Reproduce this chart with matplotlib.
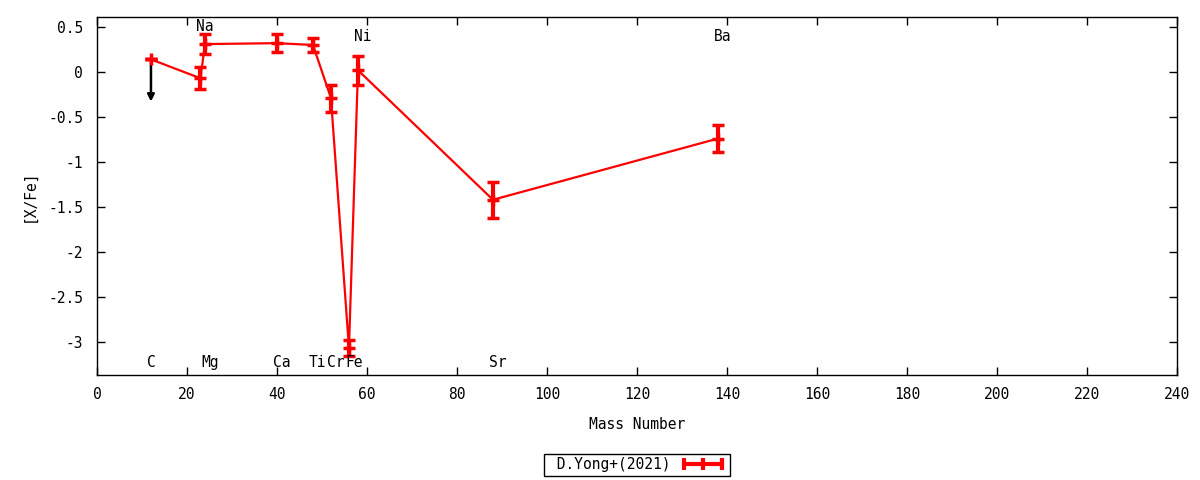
import matplotlib.pyplot as plt
from matplotlib.lines import Line2D
from matplotlib.patches import FancyArrowPatch

plt.rcParams['font.family'] = ['DejaVu Sans Mono']
plt.rcParams['font.size'] = 10.5

# D.Yong+(2021) abundances
elements = ['C', 'Na', 'Mg', 'Ca', 'Ti', 'Cr', 'Fe', 'Ni', 'Sr', 'Ba']
mass = [12, 23, 24, 40, 48, 52, 56, 58, 88, 138]
xfe = [0.14, -0.07, 0.31, 0.32, 0.30, -0.29, -3.07, 0.02, -1.42, -0.74]
err = [0.0, 0.12, 0.11, 0.10, 0.08, 0.15, 0.09, 0.16, 0.20, 0.15]
upper_limit = [True, False, False, False, False, False, False, False, False, False]
label_y = [-3.23, 0.50, -3.23, -3.23, -3.23, -3.23, -3.23, 0.39, -3.23, 0.39]

fig = plt.figure(figsize=(12, 4.8), dpi=100)
ax = fig.add_axes([0.0808, 0.2188, 0.9, 0.7458])

ax.errorbar(mass, xfe, yerr=err, color='red', lw=1.6, elinewidth=3,
            capsize=4, capthick=3, marker='+', ms=9, mew=2.5)

for m, v, ul in zip(mass, xfe, upper_limit):
    if ul:
        ax.add_patch(FancyArrowPatch((m, v), (m, v - 0.5), arrowstyle='-|>',
                                     mutation_scale=10, color='black', lw=1.8))

for el, m, ly in zip(elements, mass, label_y):
    ax.text(m - 0.9, ly, el, ha='left', va='center')

ax.set_xlim(0, 240)
ax.set_ylim(-3.367, 0.611)
ax.set_xticks(range(0, 241, 20))
ax.set_yticks([0.5, 0, -0.5, -1, -1.5, -2, -2.5, -3])
ax.set_yticklabels(['0.5', '0', '-0.5', '-1', '-1.5', '-2', '-2.5', '-3'])
ax.tick_params(direction='in', top=True, right=True, length=6, width=1)
ax.tick_params(axis='x', pad=9)
ax.tick_params(axis='y', pad=10)
for s in ax.spines.values():
    s.set_linewidth(1)

ax.set_xlabel('Mass Number', labelpad=10.5)
ax.set_ylabel('[X/Fe]', labelpad=8)

handle = Line2D([], [], color='red', lw=3, marker='|', ms=8, mew=3)
leg = ax.legend([handle], [' D.Yong+(2021)'], loc='center',
                bbox_to_anchor=(0.5, -0.251), frameon=True, numpoints=3,
                fancybox=False, edgecolor='black', markerfirst=False,
                handlelength=3.2, borderpad=0.25, borderaxespad=0,
                handletextpad=0.6, framealpha=1)
leg.get_frame().set_linewidth(1)

fig.savefig('out.png', dpi=100)
